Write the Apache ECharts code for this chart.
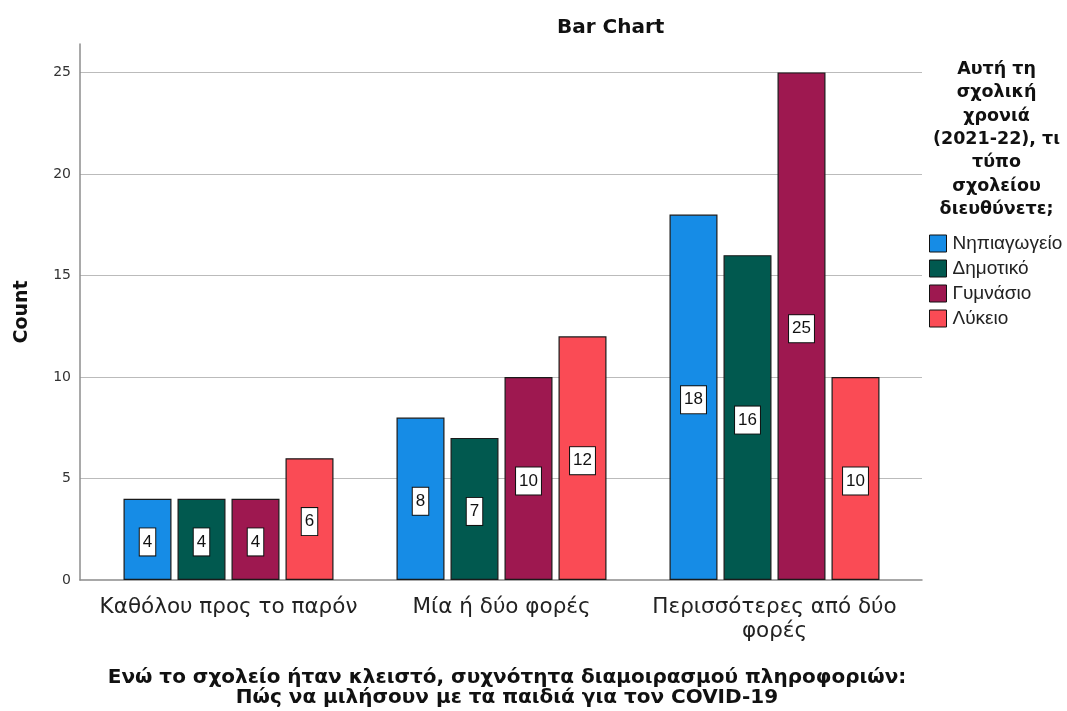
<!DOCTYPE html>
<html>
<head>
<meta charset="utf-8">
<script src="https://cdn.jsdelivr.net/npm/echarts@6/dist/echarts.min.js"></script>
<style>
  html, body { margin: 0; padding: 0; background: #fff; }
  #chart { width: 1067px; height: 711px; }
</style>
</head>
<body>
<div id="chart"></div>
<script>
// Frequency categories (x axis)
const categories = ['Καθόλου προς το παρόν', 'Μία ή δύο φορές', 'Περισσότερες από δύο\nφορές'];
// School types (legend)
const schoolTypes = ['Νηπιαγωγείο', 'Δημοτικό', 'Γυμνάσιο', 'Λύκειο'];
// Counts per school type, one value per category
const nipiagogeio = [4, 8, 18];
const dimotiko = [4, 7, 16];
const gymnasio = [4, 10, 25];
const lykeio = [6, 12, 10];
const yTicks = [0, 5, 10, 15, 20, 25];

const seriesValues = [nipiagogeio, dimotiko, gymnasio, lykeio];
const colors = ['#168ce6', '#01594f', '#9e1850', '#fa4b55'];

const arial = 'Arial, "Liberation Sans", sans-serif';
const wide = '"DejaVu Sans", Verdana, sans-serif';
const yMax = 26.4;

const chart = echarts.init(document.getElementById('chart'), null, { renderer: 'canvas' });

const series = schoolTypes.map((name, i) => ({
  name: name,
  type: 'bar',
  xAxisIndex: 1,
  yAxisIndex: 1,
  data: seriesValues[i],
  barWidth: 48,
  barGap: '12.5%',
  itemStyle: { color: colors[i], borderColor: '#1a1a1a', borderWidth: 1.2 },
  label: {
    show: true,
    position: 'inside',
    offset: [0, 2.5],
    color: '#111',
    fontFamily: arial,
    fontSize: 17,
    backgroundColor: '#fff',
    borderColor: '#111',
    borderWidth: 1,
    padding: [6, 3, 4, 3]
  },
  emphasis: { disabled: true }
}));

chart.setOption({
  animation: false,
  backgroundColor: '#fff',
  title: {
    text: 'Bar Chart',
    left: 557,
    top: 18,
    padding: 0,
    textStyle: { fontFamily: wide, fontSize: 20, fontWeight: 'bold', color: '#111' }
  },
  legend: {
    orient: 'vertical',
    left: 929,
    top: 234,
    padding: 0,
    itemWidth: 17,
    itemHeight: 17,
    itemGap: 6,
    icon: 'rect',
    itemStyle: { borderColor: '#111', borderWidth: 1 },
    textStyle: { fontFamily: arial, fontSize: 19, color: '#222', padding: [0, 0, 0, 1] },
    data: schoolTypes
  },
  graphic: [{
    type: 'text',
    left: 933,
    top: 58,
    style: {
      text: 'Αυτή τη\nσχολική\nχρονιά\n(2021-22), τι\nτύπο\nσχολείου\nδιευθύνετε;',
      textAlign: 'center',
      fontFamily: wide,
      fontSize: 17.5,
      fontWeight: 'bold',
      lineHeight: 23.3,
      fill: '#111'
    }
  }],
  grid: [
    { left: 80, right: 145, top: 44, bottom: 131, containLabel: false, outerBoundsMode: 'none' },
    { left: 92, right: 156, top: 44, bottom: 131, containLabel: false, outerBoundsMode: 'none' }
  ],
  xAxis: [
    {
      gridIndex: 0,
      type: 'category',
      data: categories,
      axisLine: { show: true, lineStyle: { color: '#8c8c8c', width: 1.5 } },
      axisTick: { show: false },
      axisLabel: { show: false },
      name: 'Ενώ το σχολείο ήταν κλειστό, συχνότητα διαμοιρασμού πληροφοριών:\nΠώς να μιλήσουν με τα παιδιά για τον COVID-19',
      nameLocation: 'middle',
      nameGap: 88,
      nameTextStyle: { fontFamily: wide, fontSize: 20, fontWeight: 'bold', color: '#111', lineHeight: 20, padding: [0, 0, 0, 12] }
    },
    {
      gridIndex: 1,
      type: 'category',
      data: categories,
      axisLine: { show: false },
      axisTick: { show: false },
      axisLabel: {
        interval: 0,
        hideOverlap: false,
        fontFamily: wide,
        fontSize: 21.5,
        color: '#222',
        margin: 15,
        lineHeight: 24
      }
    }
  ],
  yAxis: [
    {
      gridIndex: 0,
      type: 'value',
      min: 0,
      max: yMax,
      interval: 5,
      axisLine: { show: true, lineStyle: { color: '#8c8c8c', width: 1.5 } },
      axisTick: { show: false },
      axisLabel: {
        fontFamily: wide,
        fontSize: 14,
        color: '#333',
        margin: 9,
        showMaxLabel: false,
        formatter: v => (yTicks.indexOf(v) >= 0 ? String(v) : '')
      },
      splitLine: { show: true, showMaxLine: false, showMinLine: false, lineStyle: { color: '#bbb', width: 1.2 } },
      name: 'Count',
      nameLocation: 'middle',
      nameGap: 48,
      nameTextStyle: { fontFamily: wide, fontSize: 19, fontWeight: 'bold', color: '#111' }
    },
    {
      gridIndex: 1,
      type: 'value',
      min: 0,
      max: yMax,
      show: false,
      splitLine: { show: false }
    }
  ],
  series: series
});
</script>
</body>
</html>
